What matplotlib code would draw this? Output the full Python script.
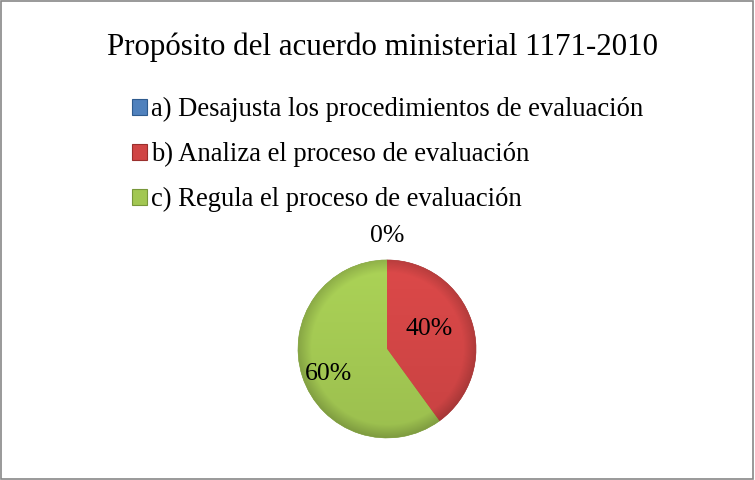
import numpy as np
import matplotlib.pyplot as plt
from matplotlib.patches import Patch, Rectangle
from matplotlib.colors import to_rgb

# data
categorias = ['a) Desajusta los procedimientos de evaluación',
              'b) Analiza el proceso de evaluación',
              'c) Regula el proceso de evaluación']
porcentajes = [0, 40, 60]
etiquetas = ['0%', '40%', '60%']
colores = ['#4F81BD', '#D04545', '#A2C752']
bordes = ['#2E5B8E', '#9A2F2D', '#78973A']

plt.rcParams['font.family'] = ['Liberation Serif', 'DejaVu Serif']

fig = plt.figure(figsize=(7.55, 4.8), dpi=100)
fig.patches.append(Rectangle((0.001, 0.002), 0.997, 0.996, transform=fig.transFigure,
                             fill=False, edgecolor='#888888', linewidth=1.2))

fig.text(0.507, 0.902, 'Propósito del acuerdo ministerial 1171-2010',
         ha='center', va='center', fontsize=22.3)

handles = [Patch(facecolor=c, edgecolor=e, linewidth=0.8) for c, e in zip(colores, bordes)]
fig.legend(handles, categorias, loc='upper left', bbox_to_anchor=(132 / 755, 1 - 97 / 480),
           frameon=False, fontsize=19.2, handlelength=0.55, handleheight=0.55,
           handletextpad=0.15, labelspacing=0.75, borderaxespad=0, borderpad=0)

ax = fig.add_axes([0.3947, 0.0875, 0.2358, 0.371])
wedges, _ = ax.pie(porcentajes, colors=colores, startangle=90, counterclock=False,
                   wedgeprops=dict(linewidth=0.4))
ax.set_aspect('equal')

# soft shading like the original bevel
yy, xx = np.mgrid[-1:1:300j, -1:1:300j]
rr = np.hypot(xx, yy)
shade = 1.06 - 0.10 * (1 - yy) / 2 - 0.18 * np.clip((rr - 0.85) / 0.15, 0, 1)
for w, c, e in zip(wedges, colores, bordes):
    w.set_edgecolor(e)
    if w.theta2 - w.theta1 <= 0:
        continue
    img = np.clip(shade[..., None] * np.array(to_rgb(c)), 0, 1)
    im = ax.imshow(img, extent=(-1, 1, -1, 1), origin='lower', zorder=w.get_zorder() + 0.1)
    im.set_clip_path(w)

# percentage labels
distancias = [1.27, 0.52, 0.72]
desfase = [0, 7, 5]
for w, t, d, o in zip(wedges, etiquetas, distancias, desfase):
    ang = np.deg2rad((w.theta1 + w.theta2) / 2 + o)
    ax.text(d * np.cos(ang), d * np.sin(ang), t, ha='center', va='center',
            fontsize=18.5, zorder=5)

ax.set_xlim(-1, 1)
ax.set_ylim(-1, 1)
fig.savefig('out.png', dpi=100)
